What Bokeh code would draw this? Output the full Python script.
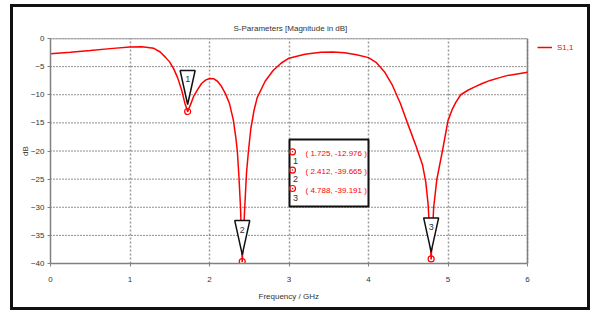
from bokeh.plotting import figure
from bokeh.models import (ColumnDataSource, Legend, LegendItem, FixedTicker, Range1d,
                          Title)
from bokeh.core.properties import value
from bokeh.embed import file_html
from bokeh.resources import INLINE

# ---- data ----
freq_ghz = [0.0, 0.25, 0.5, 0.75, 1.0, 1.15, 1.3, 1.38, 1.45, 1.5, 1.55, 1.6, 1.65,
            1.69, 1.725, 1.76, 1.8, 1.85, 1.9, 1.95, 2.0, 2.05, 2.1, 2.15, 2.2,
            2.25, 2.3, 2.33, 2.35, 2.37, 2.39, 2.412, 2.44, 2.465, 2.49, 2.52,
            2.56, 2.6, 2.7, 2.8, 2.9, 3.0, 3.2, 3.4, 3.55, 3.7, 3.85, 4.0, 4.1,
            4.2, 4.3, 4.4, 4.5, 4.6, 4.68, 4.72, 4.75, 4.788, 4.82, 4.86, 4.93,
            5.0, 5.05, 5.1, 5.16, 5.25, 5.33, 5.43, 5.53, 5.64, 5.74, 5.87, 6.0]
s11_db = [-2.7, -2.45, -2.15, -1.8, -1.5, -1.45, -1.75, -2.4, -3.4, -4.2, -5.4, -7.0, -9.2,
          -11.5, -12.976, -11.8, -10.3, -9.1, -8.0, -7.4, -7.1, -7.15, -7.6, -8.5, -9.8,
          -11.5, -14.5, -17.5, -20.0, -24.5, -30.0, -39.665, -31.0, -24.0, -20.0, -16.0,
          -12.8, -10.5, -7.6, -5.7, -4.4, -3.5, -2.8, -2.45, -2.4, -2.55, -2.9, -3.4, -4.3,
          -5.9, -8.3, -11.5, -15.4, -19.2, -22.5, -25.5, -29.5, -39.191, -30.0, -25.0, -20.0,
          -14.6, -12.7, -11.3, -10.0, -9.2, -8.65, -8.0, -7.45, -7.0, -6.6, -6.3, -6.0]

marker_ids = ["1", "2", "3"]
marker_freq = [1.725, 2.412, 4.788]
marker_db = [-12.976, -39.665, -39.191]

x_ticks = [0, 1, 2, 3, 4, 5, 6]
y_ticks = [0, -5, -10, -15, -20, -25, -30, -35, -40]

title_text = "S-Parameters [Magnitude in dB]"
x_label = "Frequency / GHz"
y_label = "dB"
series_name = "S1,1"

# ---- styling / layout ----
FONT = "Liberation Sans"
FS = "8px"
TXT = "#333333"
RED = "#ff0000"
GRAY = "#808080"

X0, X1 = x_ticks[0], x_ticks[-1]
Y0, Y1 = y_ticks[-1], y_ticks[0]
PLOT_W, FRAME_H = 477, 225          # pixel size of the 0..6 GHz / -40..0 dB area
XPP = (X1 - X0) / PLOT_W            # GHz per pixel
YPP = (Y1 - Y0) / FRAME_H           # dB per pixel


def px_x(px):
    return (px - 50) * XPP


def px_y(py):
    return -(py - 38) * YPP


# canvas, with a 3px window border drawn with CSS
W, H = 580, 306
ML, MT = 37, 31
FRAME_W = W - ML                    # frame runs to the right edge (legend lives there)
p = figure(width=W, height=H, output_backend="svg", toolbar_location=None,
           x_range=Range1d(X0, X0 + FRAME_W * XPP), y_range=Range1d(Y0, Y1),
           min_border_left=ML, min_border_top=MT,
           min_border_bottom=H - MT - FRAME_H, min_border_right=0)
p.styles = {"border": "3px solid #111111", "margin-left": "10px",
            "margin-top": "4px"}
p.background_fill_color = "white"
p.border_fill_color = "white"
p.outline_line_color = None

p.title.text = title_text
p.title.align = "left"
p.title.offset = 183
p.title.vertical_align = "middle"
p.title.text_font = FONT
p.title.text_font_size = FS
p.title.text_font_style = "normal"
p.title.text_color = TXT

for ax in (p.xaxis[0], p.yaxis[0]):
    ax.axis_line_color = GRAY
    ax.axis_line_width = 1.5
    ax.major_tick_line_color = GRAY
    ax.major_tick_out = 3
    ax.major_tick_in = 0
    ax.minor_tick_line_color = None
    ax.major_label_text_font = FONT
    ax.major_label_text_font_size = FS
    ax.major_label_text_color = TXT
    ax.axis_label_text_font = FONT
    ax.axis_label_text_font_size = FS
    ax.axis_label_text_font_style = "normal"
    ax.axis_label_text_color = TXT

p.xaxis.ticker = FixedTicker(ticks=x_ticks)
p.yaxis.ticker = FixedTicker(ticks=y_ticks)
p.xaxis.bounds = (X0, X1)
p.yaxis.axis_label = y_label
p.xaxis.major_label_standoff = 10
p.yaxis.major_label_standoff = 3
p.yaxis.axis_label_standoff = -2

xl = Title(text=x_label, align="left", offset=208, text_font=FONT,
           text_font_size=FS, text_font_style="normal", text_color=TXT)
p.add_layout(xl, "below")

p.xgrid.grid_line_color = "#9a9a9a"
p.xgrid.grid_line_dash = "2 2"
p.xgrid.grid_line_width = 1.5
p.ygrid.grid_line_color = None
# horizontal grid lines, limited to the 0..6 GHz plot area
p.segment(x0=[X0] * len(y_ticks), x1=[X1] * len(y_ticks), y0=y_ticks, y1=y_ticks,
          line_color="#222222", line_dash="1 2", line_width=1)
# top and right edges of the plot area
p.segment(x0=[X0, X1], x1=[X1, X1], y0=[Y1, Y0], y1=[Y1, Y1],
          line_color=GRAY, line_width=1.5)

src = ColumnDataSource(dict(f=freq_ghz, db=s11_db))
curve = p.line("f", "db", source=src, line_color=RED, line_width=1.5)

# marker points
msrc = ColumnDataSource(dict(f=marker_freq, db=marker_db, lab=marker_ids))
p.scatter("f", "db", source=msrc, marker="circle_dot", size=6, fill_color=None,
          line_color=RED, line_width=1.2)

# triangle flags above markers
HW = 7.5 * XPP
TOP = 41 * YPP
APEX = 7 * YPP
tri_xs = [[f - HW, f + HW, f] for f in marker_freq]
tri_ys = [[d + TOP, d + TOP, d + APEX] for d in marker_db]
p.patches(tri_xs, tri_ys, fill_color="white", line_color="#111111", line_width=1.5)
p.text(x=marker_freq, y=[d + TOP - 9 * YPP for d in marker_db], text=marker_ids,
       text_font=value(FONT), text_font_size="9px", text_color=TXT,
       text_align="center", text_baseline="middle")

# marker readout box
p.quad(left=[px_x(289)], right=[px_x(368)], top=[px_y(139)], bottom=[px_y(206)],
       fill_color="white", line_color="#111111", line_width=2)
row_py = [153, 171.3, 189.7]
readouts = [f"( {f:.3f}, {d:.3f} )" for f, d in zip(marker_freq, marker_db)]
p.text(x=[px_x(305)] * 3, y=[px_y(r) for r in row_py], text=readouts,
       text_font=value(FONT), text_font_size=FS, text_color=RED,
       text_align="left", text_baseline="middle")
p.scatter(x=[px_x(292)] * 3, y=[px_y(r - 1.7) for r in row_py], marker="circle_dot",
          size=6, fill_color=None, line_color=RED, line_width=1.2)
p.text(x=[px_x(295)] * 3, y=[px_y(r + 7.5) for r in row_py], text=marker_ids,
       text_font=value(FONT), text_font_size="9px", text_color=TXT,
       text_align="center", text_baseline="middle")

legend = Legend(items=[LegendItem(label=series_name, renderers=[curve])],
                location=(483, FRAME_H - 18), orientation="vertical")
legend.padding = 4
legend.margin = 0
legend.spacing = 0
legend.glyph_width = 15
legend.glyph_height = 10
legend.label_height = 10
legend.label_standoff = 5
legend.label_text_font = FONT
legend.label_text_font_size = FS
legend.label_text_color = RED
legend.border_line_alpha = 0
legend.background_fill_alpha = 0
p.add_layout(legend)

open("out.html", "w").write(file_html(p, INLINE))
